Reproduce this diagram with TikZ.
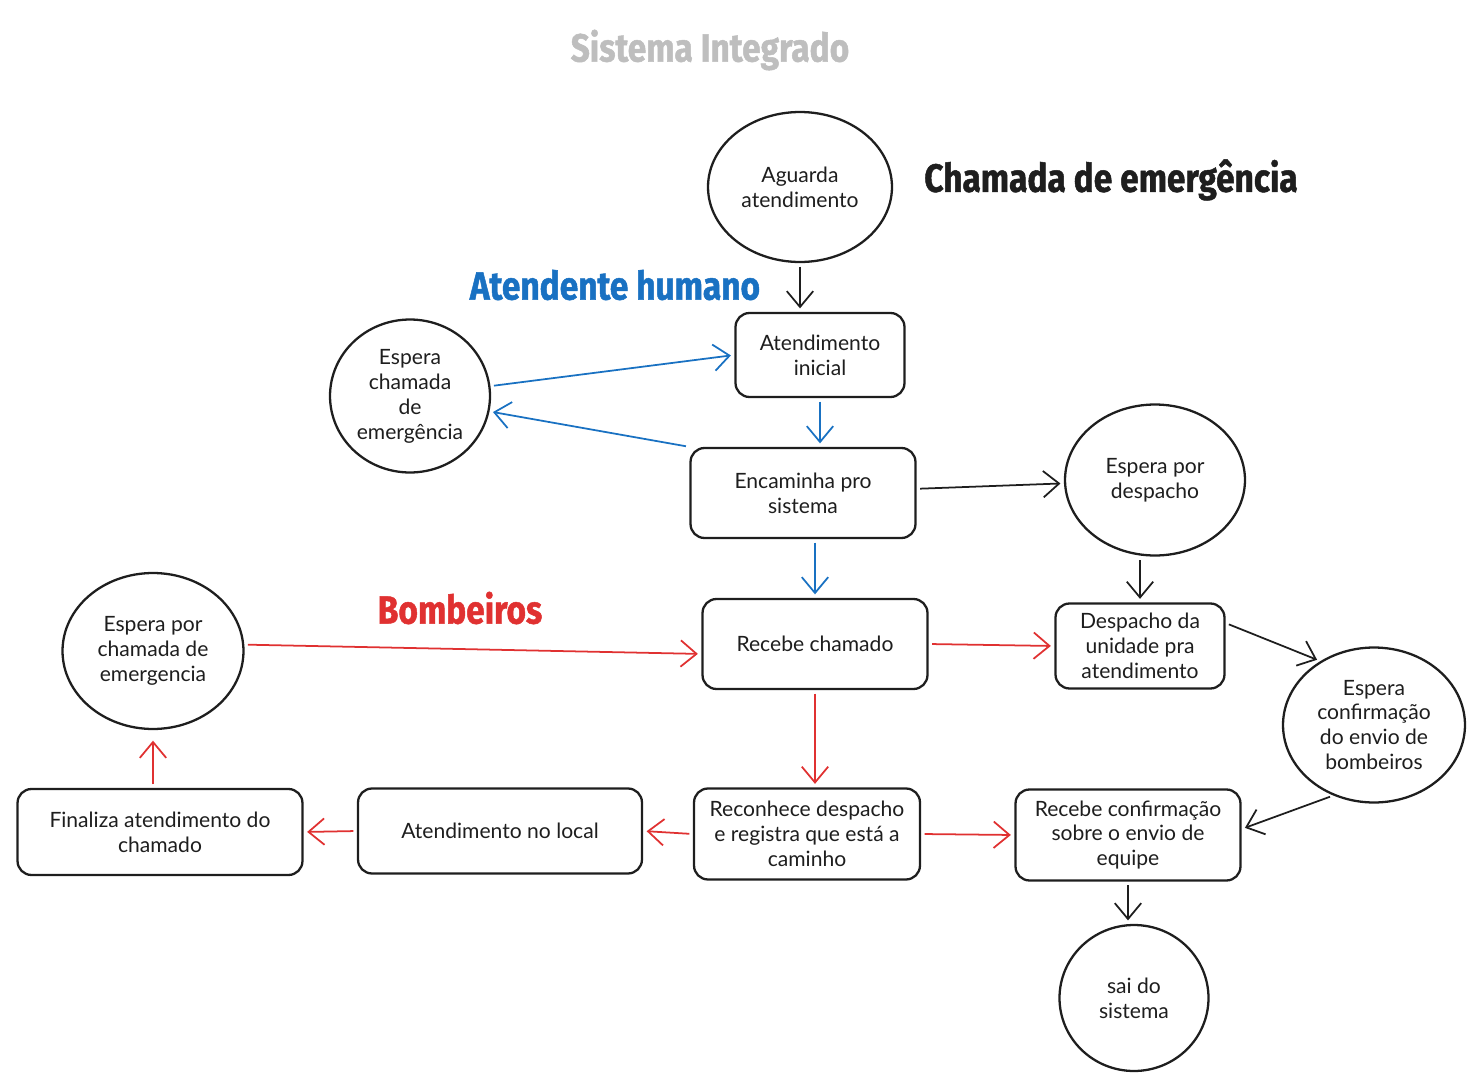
\documentclass[tikz,border=0pt]{standalone}
\usepackage{fontspec}
\setmainfont{Lato}
\newfontfamily\headfont{Fira Sans}[FakeStretch=0.85,FakeBold=1.2]
\usetikzlibrary{shapes.geometric,arrows.meta}
\definecolor{tinta}{RGB}{30,30,30}
\definecolor{azul}{RGB}{25,113,194}
\definecolor{vermelho}{RGB}{224,49,49}
\definecolor{cinza}{RGB}{190,190,190}

\begin{document}
\begin{tikzpicture}[x=0.02cm,y=-0.02cm]
    \tikzstyle{every node}=[font=\fontsize{12}{14.2}\selectfont, align=center, text=tinta]
    \tikzstyle{caixa}=[draw=tinta, line width=1.3pt, rounded corners=0.28cm, inner sep=2pt]
    \tikzstyle{estado}=[ellipse, draw=tinta, line width=1.3pt, inner sep=0pt]
    \tikzstyle{seta}=[-{Straight Barb[length=9pt,width=15pt]}, line width=1pt, shorten <=2pt, shorten >=2pt]
    \tikzstyle{titulo}=[font=\headfont\bfseries\fontsize{22.4}{26}\selectfont]

    \useasboundingbox (0,0) rectangle (1482,1085);

    % Titles
    \node[titulo, text=cinza] at (710,50) (Tsis) {Sistema Integrado};
    \node[titulo, text=tinta] at (1111,180) (Tcham) {Chamada de emergência};
    \node[titulo, text=azul] at (615,285) (Tatend) {Atendente humano};
    \node[titulo, text=vermelho] at (460,608) (Tbomb) {Bombeiros};

    % Chamada
    \node[estado, minimum width=3.68cm, minimum height=3.0cm] at (800,187) (Aguarda) {Aguarda\\atendimento};
    \node[estado, minimum width=3.6cm, minimum height=3.02cm] at (1155,480) (EspDesp) {Espera por\\despacho};
    \node[estado, minimum width=3.64cm, minimum height=3.1cm] at (1374,725) (EspConf) {Espera\\confirmação\\do envio de\\bombeiros};
    \node[estado, minimum width=2.98cm, minimum height=2.92cm] at (1134,998) (Sai) {sai do\\sistema};

    % Atendente
    \node[estado, minimum width=3.2cm, minimum height=3.06cm] at (410,396) (EspCh) {Espera\\chamada\\de\\emergência};
    \node[caixa, minimum width=3.38cm, minimum height=1.68cm] at (820,355) (Inicial) {Atendimento\\inicial};
    \node[caixa, minimum width=4.5cm, minimum height=1.8cm] at (803,493) (Encam) {Encaminha pro\\sistema};

    % Bombeiros
    \node[estado, minimum width=3.62cm, minimum height=3.12cm] at (153,651) (EspBomb) {Espera por\\chamada de\\emergencia};
    \node[caixa, minimum width=4.5cm, minimum height=1.8cm] at (815,644) (Recebe) {Recebe chamado};
    \node[caixa, minimum width=3.38cm, minimum height=1.7cm] at (1140,646) (Desp) {Despacho da\\unidade pra\\atendimento};
    \node[caixa, minimum width=5.7cm, minimum height=1.72cm] at (160,832) (Finaliza) {Finaliza atendimento do\\chamado};
    \node[caixa, minimum width=5.68cm, minimum height=1.7cm] at (500,831) (Local) {Atendimento no local};
    \node[caixa, minimum width=4.52cm, minimum height=1.82cm] at (807,834) (Reconh) {Reconhece despacho\\e registra que está a\\caminho};
    \node[caixa, minimum width=4.5cm, minimum height=1.82cm] at (1128,835) (RecConf) {Recebe confirmação\\sobre o envio de\\equipe};

    % Arrows
    \draw[seta, tinta] (Aguarda.south) -- (Aguarda.south |- Inicial.north);
    \draw[seta, azul] (EspCh.7) -- (Inicial.west);
    \draw[seta, azul] (Encam.north west) -- (EspCh.-11);
    \draw[seta, azul] (Inicial.south) -- (Inicial.south |- Encam.north);
    \draw[seta, tinta] (Encam) -- (EspDesp);
    \draw[seta, azul] (Recebe.north |- Encam.south) -- (Recebe.north);
    \draw[seta, tinta] (Desp.north |- EspDesp.south) -- (Desp.north);
    \draw[seta, vermelho] (EspBomb.4) -- (Recebe.185);
    \draw[seta, vermelho] (Recebe.east) -- (Desp.west);
    \draw[seta, tinta] (Desp.15) -- (EspConf.130);
    \draw[seta, vermelho] (Recebe.south) -- (Recebe.south |- Reconh.north);
    \draw[seta, tinta] (EspConf.-120) -- (RecConf.3);
    \draw[seta, vermelho] (Reconh.east) -- (RecConf.west);
    \draw[seta, vermelho] (Reconh.west) -- (Local.east);
    \draw[seta, vermelho] (Local.west) -- (Finaliza.east);
    \draw[seta, vermelho, shorten >=6pt] (EspBomb.south |- Finaliza.north) -- (EspBomb.south);
    \draw[seta, tinta] (RecConf.south) -- (RecConf.south |- Sai.north);

\end{tikzpicture}
\end{document}
